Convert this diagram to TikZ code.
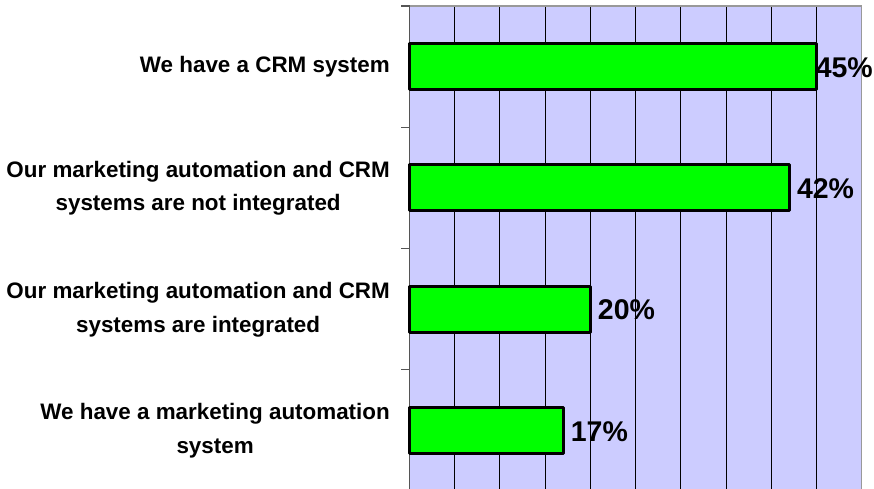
\documentclass[tikz,border=0pt]{standalone}
\usepackage{fontspec}
\setmainfont{Liberation Sans}
\definecolor{plotbg}{HTML}{CCCCFF}
\definecolor{barfill}{HTML}{00FF00}
\definecolor{axisgray}{HTML}{555555}
\definecolor{framegray}{HTML}{999999}
\tikzset{
  catlabel/.style={anchor=east, align=center, inner sep=0pt, font=\fontsize{22.4}{33.5}\selectfont\bfseries},
  pctlabel/.style={anchor=west, inner sep=0pt, font=\fontsize{28.5}{30}\selectfont\bfseries},
  barbox/.style={draw=black, fill=barfill, line width=3pt, line join=round},
  gridln/.style={draw=black, line width=0.9pt},
  tickln/.style={draw=axisgray, line width=1.3pt}
}
\begin{document}
\begin{tikzpicture}[x=1pt,y=-1pt]
\useasboundingbox (0,0) rectangle (874,489);
\clip (0,0) rectangle (874,489);
% plot area
\fill[plotbg] (409.3,6) rectangle (861.7,495);
% grid lines
\foreach \i in {1,...,9} {
  \draw[gridln] ({409.3+\i*45.24},6) -- ({409.3+\i*45.24},495);
}
\draw[framegray, line width=1.2pt] (409.3,6) -- (861.7,6) -- (861.7,495);
% axis and ticks
\draw[tickln] (409.3,5.4) -- (409.3,495);
\foreach \y in {6,127.2,248.4,369.6} {
  \draw[tickln] (401,\y) -- (409.3,\y);
}
% bars
\coordinate (b1s) at (409.3,66.6);  \coordinate (b1e) at ({409.3+9*45.24},66.6);
\coordinate (b2s) at (409.3,187.8); \coordinate (b2e) at ({409.3+8.4*45.24},187.8);
\coordinate (b3s) at (409.3,309.0); \coordinate (b3e) at ({409.3+4*45.24},309.0);
\coordinate (b4s) at (409.3,430.2); \coordinate (b4e) at ({409.3+3.4*45.24},430.2);
\draw[barbox] ([yshift=-23pt]b1s) rectangle ([yshift=23pt]b1e);
\draw[barbox] ([yshift=-23pt]b2s) rectangle ([yshift=23pt]b2e);
\draw[barbox] ([yshift=-23pt]b3s) rectangle ([yshift=23pt]b3e);
\draw[barbox] ([yshift=-23pt]b4s) rectangle ([yshift=23pt]b4e);
% value labels
\node[pctlabel, anchor=east] (v1) at (873,67.6) {45\%};
\node[pctlabel] (v2) at ([xshift=7.5pt,yshift=-1pt]b2e) {42\%};
\node[pctlabel] (v3) at ([xshift=7.5pt,yshift=-1pt]b3e) {20\%};
\node[pctlabel] (v4) at ([xshift=7.5pt,yshift=-1pt]b4e) {17\%};
% category labels
\node[catlabel] (c1) at (390,66.6) {We have a CRM system};
\node[catlabel] (c2) at (390,188.5) {Our marketing automation and CRM\\systems are not integrated};
\node[catlabel] (c3) at (390,309.7) {Our marketing automation and CRM\\systems are integrated};
\node[catlabel] (c4) at (390,430.9) {We have a marketing automation\\system};
\end{tikzpicture}
\end{document}
